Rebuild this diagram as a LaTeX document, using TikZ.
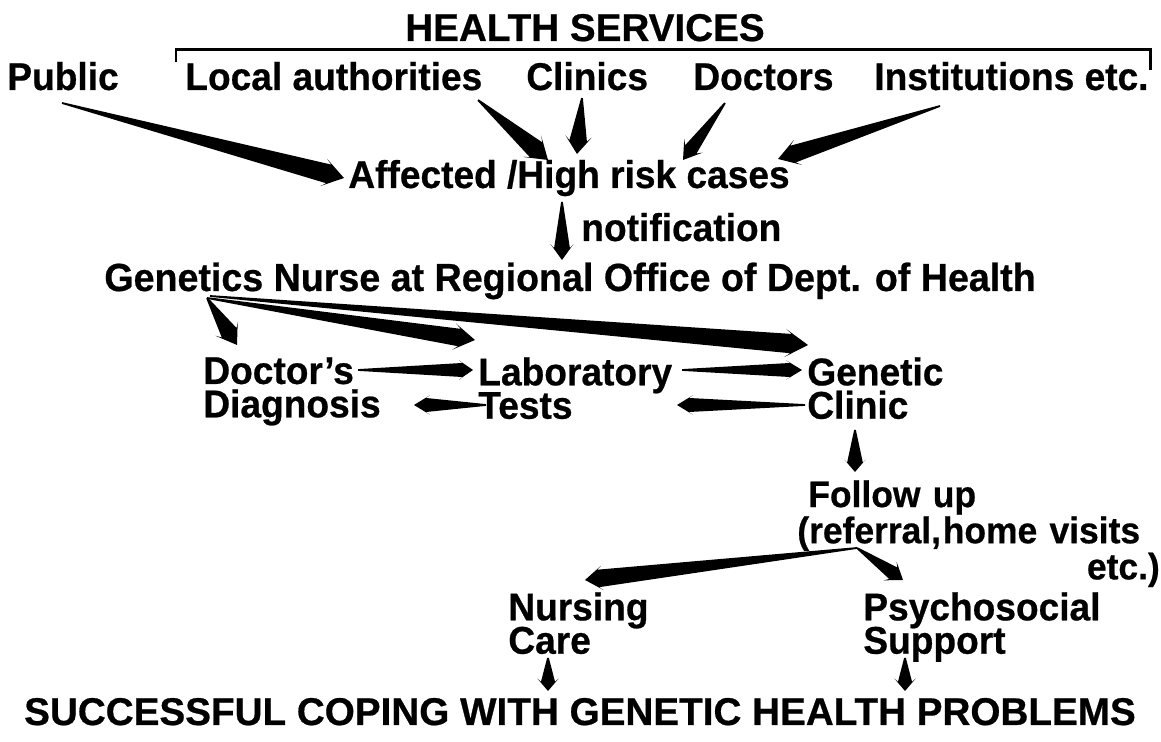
\documentclass[tikz,border=0pt]{standalone}
\usepackage{fontspec}
\setmainfont{Liberation Sans}[FakeStretch=0.96,FakeBold=0.6]
\newfontfamily\widefont{Liberation Sans}[FakeBold=0.6]
\usetikzlibrary{calc}
\setlength{\lineskiplimit}{-30pt}
\hyphenpenalty=10000

\tikzset{
  lbl/.style={inner sep=0pt, anchor=base west,
    font=\fontsize{22}{19}\selectfont\bfseries},
  twoline/.style={lbl, anchor=north west, align=left},
  bracketline/.style={line width=1.7pt},
}
\newcommand\wedgearrow[5]{%
  \coordinate (ta) at #4;
  \coordinate (tb) at #5;
  \coordinate (ts) at ($(tb)!0.75*#3!(ta)$);
  \coordinate (th) at ($(tb)!#3!(ta)$);
  \fill ($(ta)!0.5pt!90:(tb)$) -- ($(ts)!#1!90:(tb)$) -- ($(th)!#2!90:(tb)$) -- (tb)
    -- ($(th)!#2!-90:(tb)$) -- ($(ts)!#1!-90:(tb)$) -- ($(ta)!0.5pt!-90:(tb)$) -- cycle;}

\begin{document}
\begin{tikzpicture}[x=0.02cm,y=-0.02cm]
            \useasboundingbox (0,0) rectangle (1161,742);
            \node[lbl,anchor=base,font=\fontsize{22}{19}\widefont\bfseries] (hs) at (585,41) {HEALTH SERVICES};
            \draw[bracketline] (176,62) -- (176,50) -- (1150,50) -- (1150,70);
            \node[lbl] (pub) at (7,90) {Public};
            \node[lbl] (loc) at (185,90) {Local authorities};
            \node[lbl] (cli) at (526,90) {Clinics};
            \node[lbl] (doc) at (693,90) {Doctors};
            \node[lbl] (inst) at (874,90) {Institutions etc.};
            \node[lbl] (aff) at (348,188) {Affected /High risk cases};
            \node[lbl] (note) at (581,241) {notification};
            \node[lbl,font=\fontsize{22.3}{19}\selectfont\bfseries] (nurse) at (104,291) {Genetics Nurse at Regional Office of Dept. of Health};
            \node[twoline] (diag) at (203,357) {Doctor’s\\Diagnosis};
            \node[twoline] (lab) at (478,357) {Laboratory\\Tests};
            \node[twoline] (gen) at (807,357) {Genetic\\Clinic};
            \node[twoline,text width=7.25cm,font=\fontsize{21}{19.5}\selectfont\bfseries] (fol) at (797,480)
              {\hspace*{0.22cm}Follow up\\(referral,\hspace{1pt}home visits\\\hspace*{\fill}etc.)};
            \node[twoline] (nur) at (508,592) {Nursing\\Care};
            \node[twoline] (psy) at (863,592) {Psychosocial\\Support};
            \node[lbl,anchor=base,font=\fontsize{22}{19}\widefont\bfseries] (succ) at (580,725) {SUCCESSFUL COPING WITH GENETIC HEALTH PROBLEMS};
            \wedgearrow{5.5pt}{8pt}{12pt}{($(pub.base west)+(55,13)$)}{($(aff.base west)+(-4,-10)$)}
            \wedgearrow{5.5pt}{8pt}{12pt}{($(loc.base west)+(293,10)$)}{($(aff.base west)+(200,-28)$)}
            \wedgearrow{5pt}{7.5pt}{10pt}{($(cli.base west)+(56,8)$)}{($(aff.base west)+(229,-34)$)}
            \wedgearrow{4pt}{6.5pt}{10pt}{($(doc.base west)+(32,13)$)}{($(aff.base west)+(335,-28)$)}
            \wedgearrow{5pt}{7.5pt}{12pt}{($(inst.base west)+(66,16)$)}{($(aff.base west)+(430,-29)$)}
            \wedgearrow{4.5pt}{6.5pt}{9pt}{($(aff.base west)+(214,14)$)}{($(nurse.base west)+(458,-31)$)}
            \wedgearrow{5pt}{7.5pt}{11pt}{($(nurse.base west)+(103,7)$)}{($(diag.north west)+(34,-12)$)}
            \wedgearrow{5pt}{7.5pt}{12pt}{($(nurse.base west)+(103,7)$)}{($(lab.north west)+(-3,-17)$)}
            \wedgearrow{5.5pt}{8pt}{13pt}{($(nurse.base west)+(106,5)$)}{($(gen.north west)+(1,-12)$)}
            \wedgearrow{4pt}{5.5pt}{8pt}{($(diag.north west)+(155,13)$)}{($(lab.north west)+(-5,13)$)}
            \wedgearrow{4pt}{5.5pt}{9pt}{($(lab.north west)+(204,13)$)}{($(gen.north west)+(-5,13)$)}
            \wedgearrow{4pt}{5.5pt}{9pt}{($(gen.north west)+(-2,48)$)}{($(lab.north west)+(199,48)$)}
            \wedgearrow{4pt}{5.5pt}{9pt}{($(lab.north west)+(8,48)$)}{($(diag.north west)+(211,48)$)}
            \wedgearrow{4.5pt}{6pt}{7pt}{($(gen.north west)+(48,73)$)}{($(fol.north west)+(58,-8)$)}
            \wedgearrow{5pt}{7pt}{10pt}{($(fol.north west)+(60,68)$)}{($(nur.north west)+(77,-12)$)}
            \wedgearrow{4pt}{6.5pt}{9pt}{($(fol.north west)+(60,68)$)}{($(psy.north west)+(40,-12)$)}
            \wedgearrow{4pt}{6pt}{7pt}{($(nur.north west)+(40,66)$)}{($(succ.base)+(-32,-34)$)}
            \wedgearrow{4pt}{6pt}{7pt}{($(psy.north west)+(42,66)$)}{($(succ.base)+(325,-34)$)}
\end{tikzpicture}
\end{document}
